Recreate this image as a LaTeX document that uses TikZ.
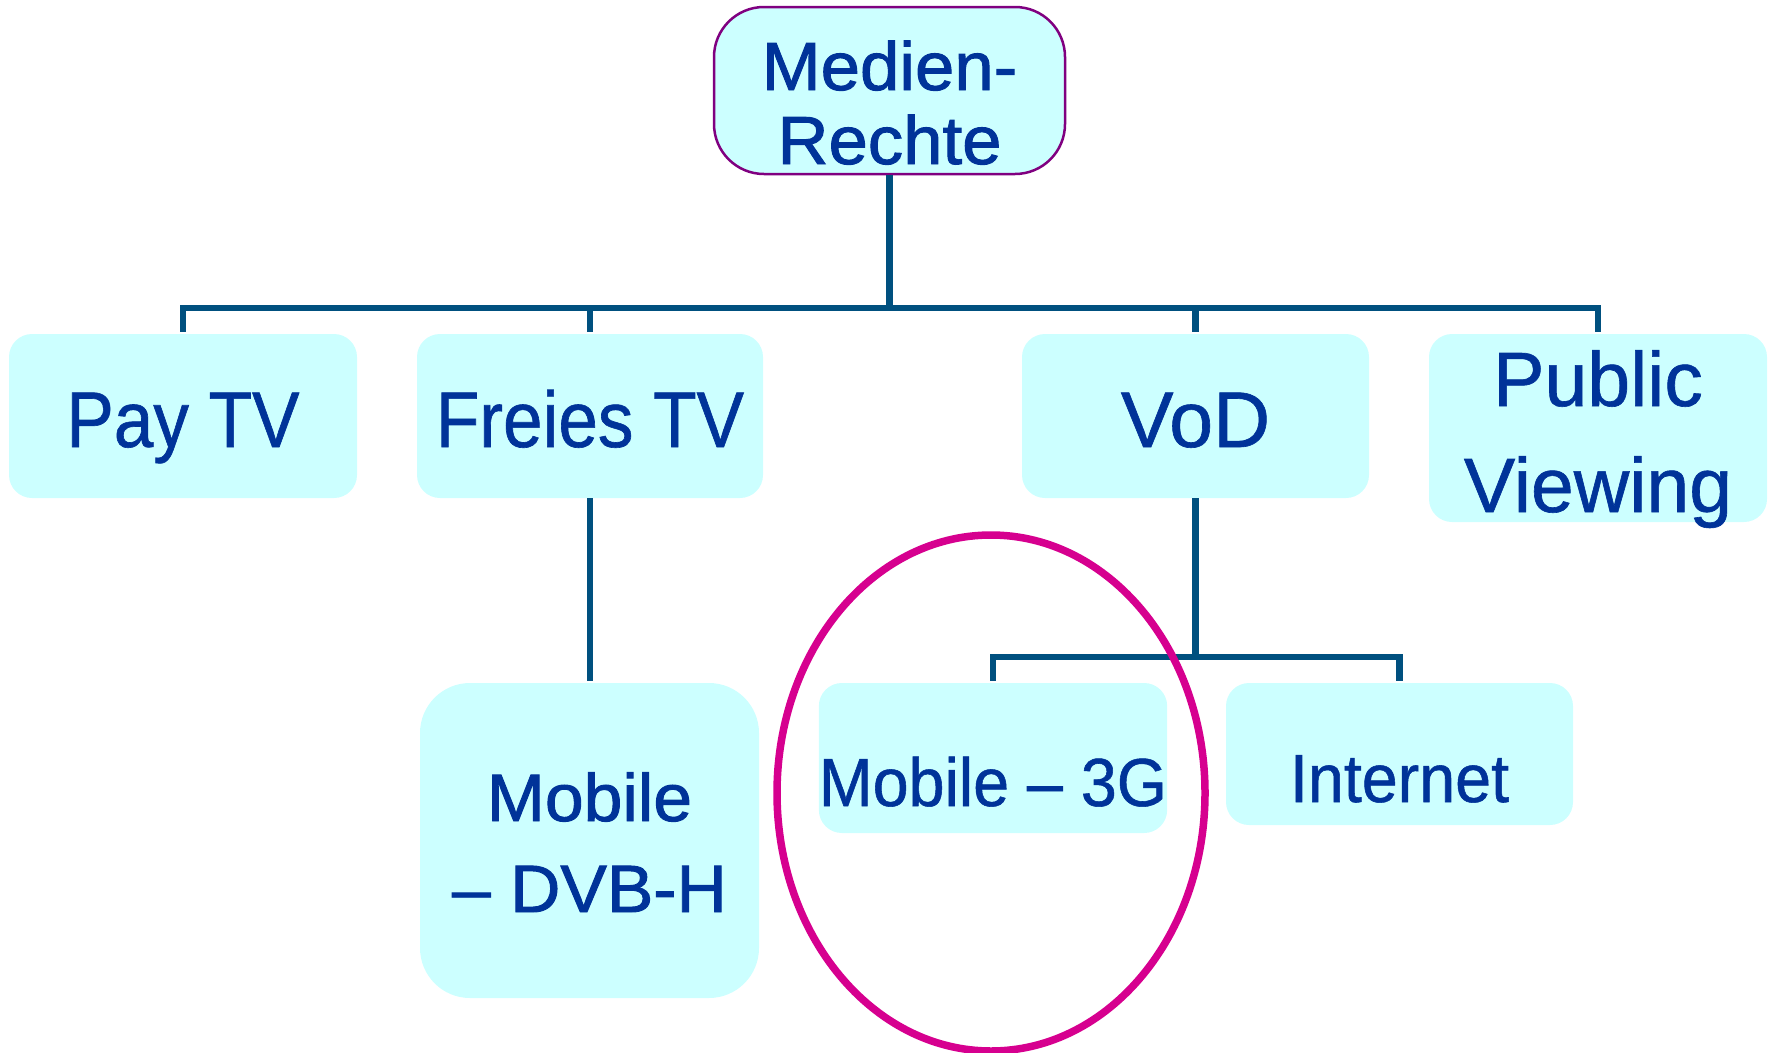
\documentclass[tikz,border=0pt]{standalone}
\usepackage{fontspec}
\setmainfont{Liberation Sans}[FakeBold=0.8]
\newfontfamily\narrowsf[FakeStretch=0.9,FakeBold=0.8]{Liberation Sans}
\newfontfamily\slimsf[FakeStretch=0.95,FakeBold=0.8]{Liberation Sans}
\newfontfamily\widesf[FakeStretch=1.04,FakeBold=1.4]{Liberation Sans}
\usetikzlibrary{positioning}
\definecolor{box_fill}{HTML}{CCFFFF}
\definecolor{box_text}{HTML}{003399}
\definecolor{link_blue}{HTML}{00507F}
\definecolor{top_border}{HTML}{800080}
\definecolor{mark_pink}{HTML}{D6008F}
\tikzset{
	medbox/.style={fill=box_fill,text=box_text,inner sep=0pt,rounded corners=23pt,align=center},
	link/.style={draw=link_blue,line width=6.5pt},
}

\begin{document}
\begin{tikzpicture}[x=1pt,y=-1pt,line join=miter]
		\useasboundingbox (0,0) rectangle (1776,1052);
		% top of the tree
		\node[medbox,draw=top_border,line width=2.5pt,rounded corners=50pt,minimum width=351pt,
			text height=157pt,text depth=10pt,font=\widesf\fontsize{68}{74}\selectfont]
			(medien) at (889.5,90.5) {Medien-\\Rechte};
		% first level
		\begin{scope}[every node/.append style={text height=113pt,text depth=51pt}]
		\node[medbox,minimum width=348pt,font=\narrowsf\fontsize{79}{79}\selectfont] (paytv) at (183,416) {Pay TV};
		\node[medbox,minimum width=346pt,font=\narrowsf\fontsize{79}{79}\selectfont] (freies) at (590,416) {Freies TV};
		\node[medbox,minimum width=347pt,font=\fontsize{79}{79}\selectfont] (vod) at (1195.5,416) {VoD};
		\end{scope}
		\node[medbox,minimum width=338pt,text height=178pt,text depth=10pt,
			font=\fontsize{77}{106}\selectfont] (public) at (1598,428) {Public\\Viewing};
		% second level
		\node[medbox,rounded corners=50pt,minimum width=339pt,text height=229pt,text depth=86pt,
			font=\widesf\fontsize{67}{91}\selectfont] (dvbh) at (589.5,840.5) {Mobile\\– DVB-H};
		\node[medbox,minimum width=348pt,text height=123pt,text depth=27pt,
			font=\slimsf\fontsize{68}{68}\selectfont] (mobile) at (993,758) {Mobile – 3G};
		\node[medbox,minimum width=347pt,text height=119pt,text depth=23pt,
			font=\slimsf\fontsize{68}{68}\selectfont] (internet) at (1399.5,754) {Internet};
		% connectors
		\coordinate (bus) at (0,308);
		\coordinate (subbus) at (0,657);
		\foreach\c in {paytv,freies,vod,public}
			\draw[link,shorten >=2pt] (medien.south) -- (medien.south |- bus) -| (\c.north);
		\draw[link,shorten >=2pt] (freies.south) -- (freies.south |- dvbh.north);
		\foreach\c in {mobile,internet}
			\draw[link,shorten >=2pt] (vod.south) -- (vod.south |- subbus) -| (\c.north);
		% highlight
		\draw[mark_pink,line width=7.5pt] (991,793) ellipse [x radius=214, y radius=258];
	\end{tikzpicture}
\end{document}
